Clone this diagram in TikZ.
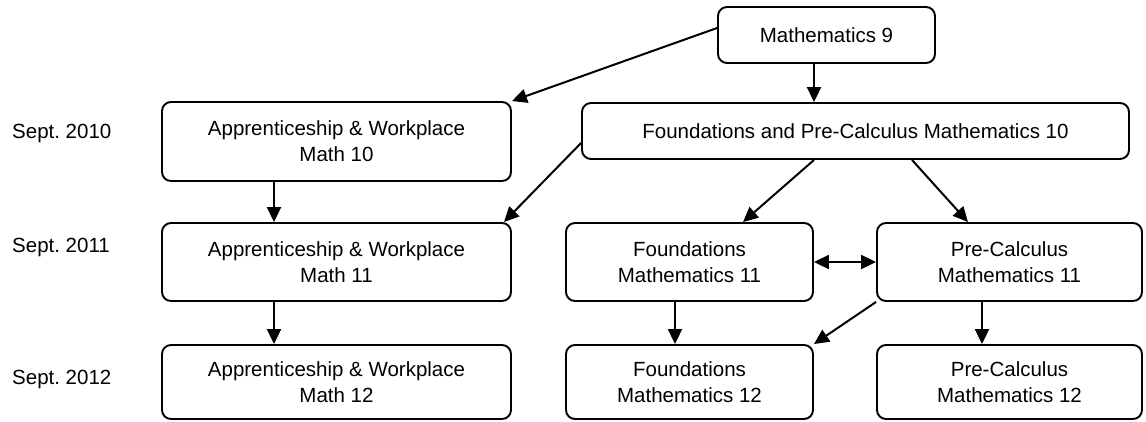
\documentclass[tikz,border=0pt]{standalone}
\usepackage{fontspec}
\setmainfont{Liberation Sans}
\usetikzlibrary{arrows.meta}
\tikzset{
  course/.style={draw, line width=1.9pt, rounded corners=9pt, align=center,
    inner sep=0pt, font=\fontsize{20.5}{26}\selectfont},
  yearlabel/.style={anchor=west, inner sep=0pt, font=\fontsize{20.5}{26}\selectfont},
  arr/.style={line width=2pt, -{Triangle[length=15pt,width=14pt]}},
  dblarr/.style={line width=2pt, {Triangle[length=15pt,width=14pt]}-{Triangle[length=15pt,width=14pt]}}
}
\begin{document}
\frenchspacing
\begin{tikzpicture}[x=1pt,y=-1pt]
\useasboundingbox (0,0) rectangle (1146,421);
% year labels
\node[yearlabel] (y10) at (12,133) {Sept. 2010};
\node[yearlabel] (y11) at (12,247) {Sept. 2011};
\node[yearlabel] (y12) at (12,379) {Sept. 2012};
% boxes
\node[course, minimum width=217pt, minimum height=56pt] (m9) at (826.5,35) {Mathematics 9};
\node[course, minimum width=547pt, minimum height=56pt] (fp10) at (855.5,131) {Foundations and Pre-Calculus Mathematics 10};
\node[course, minimum width=349pt, minimum height=79pt] (aw10) at (336.5,141.5) {Apprenticeship \& Workplace\\Math 10};
\node[course, minimum width=349pt, minimum height=78pt] (aw11) at (336.5,262) {Apprenticeship \& Workplace\\Math 11};
\node[course, minimum width=349pt, minimum height=74pt] (aw12) at (336.5,382) {Apprenticeship \& Workplace\\Math 12};
\node[course, minimum width=247pt, minimum height=78pt] (f11) at (689.5,262) {Foundations\\Mathematics 11};
\node[course, minimum width=265pt, minimum height=78pt] (pc11) at (1009.5,262) {Pre-Calculus\\Mathematics 11};
\node[course, minimum width=247pt, minimum height=74pt] (f12) at (689.5,382) {Foundations\\Mathematics 12};
\node[course, minimum width=265pt, minimum height=74pt] (pc12) at (1009.5,382) {Pre-Calculus\\Mathematics 12};
% connectors
\draw[arr] ([yshift=7pt]m9.west) -- (aw10.north east);
\draw[arr] ([xshift=-12.5pt]m9.south) -- ([xshift=-12.5pt]m9.south |- fp10.north);
\draw[arr] ([yshift=-12pt]fp10.west) -- ([xshift=-8pt]aw11.north east);
\draw[arr] ([xshift=-41.5pt]fp10.south) -- ([xshift=53.5pt]f11.north);
\draw[arr] ([xshift=56.5pt]fp10.south) -- ([xshift=-41.5pt]pc11.north);
\draw[arr] ([xshift=-62.5pt]aw10.south) -- ([xshift=-62.5pt]aw11.north);
\draw[arr] ([xshift=-62.5pt]aw11.south) -- ([xshift=-62.5pt]aw12.north);
\draw[dblarr] (f11.east) -- (pc11.west);
\draw[arr] ([xshift=-14.5pt]f11.south) -- ([xshift=-14.5pt]f12.north);
\draw[arr] (pc11.south west) -- (f12.north east);
\draw[arr] ([xshift=-27.5pt]pc11.south) -- ([xshift=-27.5pt]pc12.north);
\end{tikzpicture}
\end{document}
